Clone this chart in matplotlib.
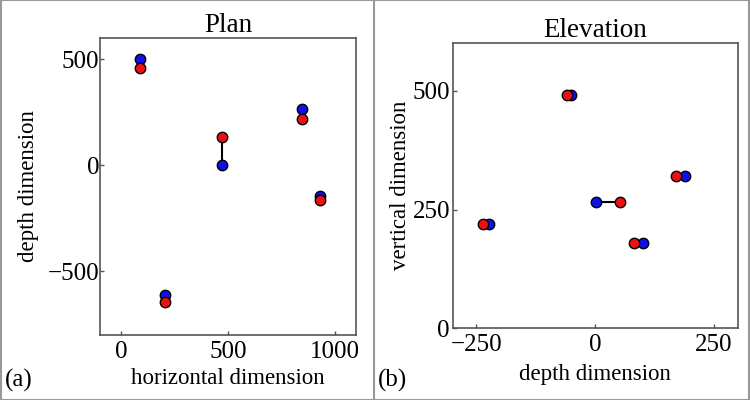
import matplotlib
import matplotlib.pyplot as plt
from matplotlib.lines import Line2D

matplotlib.use("Agg")

plt.rcParams["font.family"] = ["Liberation Serif", "DejaVu Serif"]

# Plan view: (horizontal, depth) of each pair of points
plan_blue_x = [87, 205, 473, 845, 932]
plan_blue_y = [500, -610, 0, 267, -146]
plan_red_x = [87, 205, 473, 845, 932]
plan_red_y = [458, -644, 134, 220, -163]

# Elevation view: (depth, vertical)
elev_blue_x = [-223, -52, 1, 101, 188]
elev_blue_y = [219, 491, 266, 180, 321]
elev_red_x = [-236, -59, 52, 82, 171]
elev_red_y = [219, 491, 266, 180, 321]

# index of the pair that is joined by a line
linked = 2


def style_axes(ax, ypad):
    for sp in ax.spines.values():
        sp.set_color("#555555")
        sp.set_linewidth(1.2)
    ax.tick_params(direction="in", length=3, width=1, color="#555555",
                   labelsize=18, top=False, right=False)
    ax.tick_params(axis="x", pad=4)
    ax.tick_params(axis="y", pad=ypad)


def draw_pairs(ax, bx, by, rx, ry):
    ax.plot([bx[linked], rx[linked]], [by[linked], ry[linked]],
            color="black", lw=1.5, zorder=2)
    ax.plot(bx, by, "o", color="#1010ee", mec="black", mew=1, ms=7.5,
            ls="none", zorder=3)
    ax.plot(rx, ry, "o", color="#ee1010", mec="black", mew=1, ms=7.5,
            ls="none", zorder=4)


fig = plt.figure(figsize=(7.5, 4), dpi=100)

ax1 = fig.add_axes([0.1333, 0.1625, 0.3414, 0.7425])
draw_pairs(ax1, plan_blue_x, plan_blue_y, plan_red_x, plan_red_y)
ax1.set_xlim(-100, 1100)
ax1.set_ylim(-800, 600)
ax1.set_xticks([0, 500, 1000])
ax1.set_yticks([-500, 0, 500])
style_axes(ax1, 0.5)
ax1.set_title("Plan", fontsize=19.5, pad=4)
ax1.set_xlabel("horizontal dimension", fontsize=16.5)
ax1.set_ylabel("depth dimension", fontsize=16.5)
ax1.xaxis.set_label_coords(0.5, -0.11)
ax1.yaxis.set_label_coords(-0.24, 0.5)

ax2 = fig.add_axes([0.6036, 0.179, 0.38, 0.713])
draw_pairs(ax2, elev_blue_x, elev_blue_y, elev_red_x, elev_red_y)
ax2.set_xlim(-300, 300)
ax2.set_ylim(0, 600)
ax2.set_xticks([-250, 0, 250])
ax2.set_yticks([0, 250, 500])
style_axes(ax2, 2)
ax2.set_title("Elevation", fontsize=19.5, pad=4)
ax2.set_xlabel("depth dimension", fontsize=16.5)
ax2.set_ylabel("vertical dimension", fontsize=16.5)
ax2.xaxis.set_label_coords(0.5, -0.125)
ax2.yaxis.set_label_coords(-0.145, 0.5)

fig.text(0.006, 0.02, "(a)", fontsize=18, ha="left", va="bottom")
fig.text(0.504, 0.02, "(b)", fontsize=18, ha="left", va="bottom")

# panel frames
frame = dict(color="#999999", lw=1.5, transform=fig.transFigure)
fig.add_artist(Line2D([0.001, 0.999, 0.999, 0.001, 0.001],
                      [0.999, 0.999, 0.001, 0.001, 0.999], **frame))
fig.add_artist(Line2D([0.499, 0.499], [0, 1], **frame))

fig.savefig("out.png", dpi=100, facecolor="white")
